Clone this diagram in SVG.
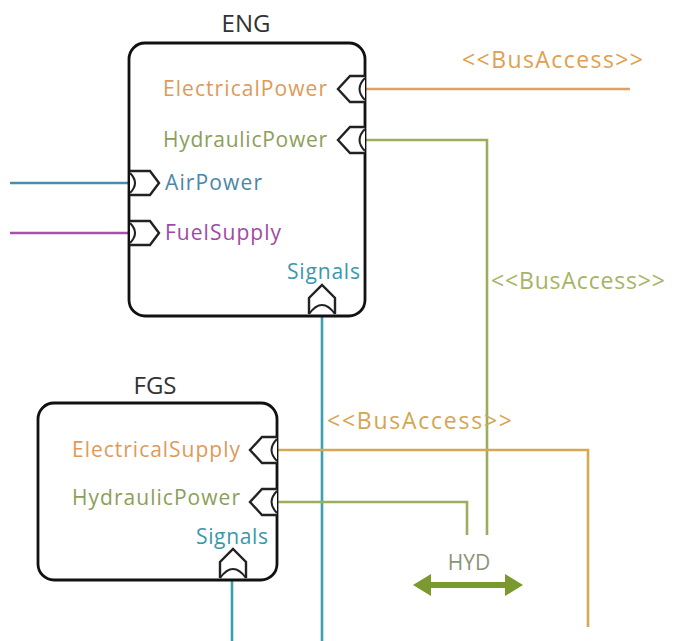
<svg xmlns="http://www.w3.org/2000/svg" width="678" height="641" viewBox="0 0 678 641">
<style>
text{font-family:"Open Sans","Noto Sans","DejaVu Sans",sans-serif}
.title{font-size:24px;fill:#333}
.lbl{font-size:21px}
.bus{font-size:23px}
.box{fill:#fff;stroke:#111;stroke-width:2.8}
.port{fill:#fff;stroke:#222;stroke-width:2.4;stroke-linejoin:miter}
.pin{fill:none;stroke:#222;stroke-width:2}
.c{fill:none;stroke-width:2.6}
.elec{fill:#de9a58}
.hyd{fill:#8c9e5a}
.air{fill:#4a86a8}
.fuel{fill:#a04aa4}
.sig{fill:#3a98ac}
</style>
<defs>
<g id="pL"><path class="port" d="M0,-13 H-15 L-27,0 L-15,13 H0"/><path class="pin" d="M0,-11 Q-11,0 0,11"/></g>
<g id="pR"><path class="port" d="M0,-12 H20 L29,0 L20,12 H0"/><path class="pin" d="M0,-10 Q10,0 0,10"/></g>
<g id="pU"><path class="port" d="M-13,0 V-16 L0,-29 L13,-16 V0"/><path class="pin" d="M-13,0 Q0,-18 13,0"/></g>
</defs>
<g id="connectors">
<path class="c" stroke="#4a8cab" d="M10,183 H130"/>
<path class="c" stroke="#a652a8" d="M10,233 H130"/>
<path class="c" stroke="#3aa0b2" d="M322,316 V641"/>
<path class="c" stroke="#e0a060" d="M365,89 H630"/>
<path class="c" stroke="#9aae5c" d="M365,140 H487 V535"/>
<path class="c" stroke="#d6a754" d="M277,450 H588 V627"/>
<path class="c" stroke="#9aae5c" d="M277,502 H467 V535"/>
<path class="c" stroke="#3aa0b2" d="M232,580 V641"/>
<text class="bus" x="462" y="68" fill="#e0a050" textLength="181" lengthAdjust="spacing">&lt;&lt;BusAccess&gt;&gt;</text>
<text class="bus" x="491" y="289" fill="#a6b464" textLength="174" lengthAdjust="spacing">&lt;&lt;BusAccess&gt;&gt;</text>
<text class="bus" x="327" y="429" fill="#d4a650" textLength="185" lengthAdjust="spacing">&lt;&lt;BusAccess&gt;&gt;</text>
</g>
<g id="ENG">
<text class="title" x="246" y="32" text-anchor="middle">ENG</text>
<rect class="box" x="129" y="43" width="236" height="273" rx="16"/>
<use href="#pL" x="365" y="89"/>
<use href="#pL" x="365" y="140"/>
<use href="#pR" x="130" y="183"/>
<use href="#pR" x="130" y="233"/>
<use href="#pU" x="322" y="314"/>
<text class="lbl elec" x="163" y="96" textLength="164" lengthAdjust="spacing">ElectricalPower</text>
<text class="lbl hyd" x="163" y="147" textLength="164" lengthAdjust="spacing">HydraulicPower</text>
<text class="lbl air" x="165" y="190" textLength="97" lengthAdjust="spacing">AirPower</text>
<text class="lbl fuel" x="165" y="240" textLength="116" lengthAdjust="spacing">FuelSupply</text>
<text class="lbl sig" x="287" y="279" textLength="73" lengthAdjust="spacing">Signals</text>
</g>
<g id="FGS">
<text class="title" x="155" y="394" text-anchor="middle">FGS</text>
<rect class="box" x="38" y="403" width="239" height="177" rx="16"/>
<use href="#pL" x="277" y="450"/>
<use href="#pL" x="277" y="502"/>
<use href="#pU" x="233" y="578"/>
<text class="lbl elec" x="72" y="457" textLength="168" lengthAdjust="spacing">ElectricalSupply</text>
<text class="lbl hyd" x="72" y="505" textLength="168" lengthAdjust="spacing">HydraulicPower</text>
<text class="lbl sig" x="196" y="544" textLength="72" lengthAdjust="spacing">Signals</text>
</g>
<g id="HYD">
<text x="469" y="570" text-anchor="middle" font-size="21" fill="#8a9478">HYD</text>
<path d="M428,585 H508" stroke="#7a9a30" stroke-width="6" fill="none"/>
<polygon points="413,585 431,574 431,596" fill="#7a9a30"/>
<polygon points="523,585 505,574 505,596" fill="#7a9a30"/>
</g>
</svg>
